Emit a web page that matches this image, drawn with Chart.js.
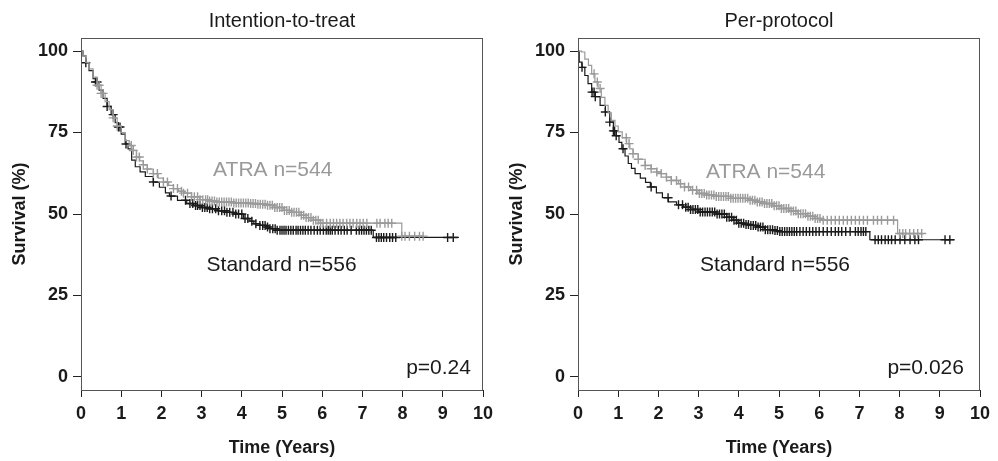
<!DOCTYPE html>
<html><head><meta charset="utf-8">
<script src="https://cdn.jsdelivr.net/npm/chart.js@4.4.1/dist/chart.umd.min.js"></script>
<style>
html,body{margin:0;padding:0;background:#fff;width:998px;height:461px;overflow:hidden}
.w{position:absolute;top:0;width:500px;height:461px}
</style></head><body>
<div class="w" style="left:0"><canvas id="c1" width="500" height="461"></canvas></div>
<div class="w" style="left:497px"><canvas id="c2" width="500" height="461"></canvas></div>
<script>
// ---- Data ----
const X_TICKS = [0,1,2,3,4,5,6,7,8,9,10];
const Y_TICKS = [0,25,50,75,100];

// Intention-to-treat: Standard
const ITT_STD_T = [0,0.05,0.12,0.2,0.3,0.36,0.45,0.55,0.65,0.75,0.85,0.93,1.0,1.1,1.17,1.26,1.35,1.47,1.6,1.8,1.95,2.1,2.2,2.4,2.63,2.8,3.0,3.2,3.4,3.6,3.8,4.04,4.2,4.3,4.45,4.6,4.7,4.87,7.27,9.4];
const ITT_STD_S = [100,98.5,96.4,94,91.5,90.5,88,85.5,83,80.5,78,76.7,74.5,71.5,70,66.5,64.5,62.9,61.5,59.8,58.2,56.5,55.5,54.2,53.2,52.6,52,51.6,51,50.5,50,48.6,47.8,47,46.5,46,45.5,45,42.8,42.8];
const ITT_STD_CENS = [0.12,0.36,0.4,0.65,0.8,0.93,0.97,1.12,1.8,2.24,2.6,2.71,2.78,2.85,2.9,2.96,3.02,3.08,3.14,3.2,3.27,3.35,3.42,3.5,3.57,3.63,3.7,3.78,3.85,3.92,4.0,4.08,4.15,4.25,4.35,4.45,4.52,4.58,4.64,4.7,4.77,4.83,4.88,4.95,5.0,5.05,5.1,5.16,5.22,5.28,5.35,5.4,5.46,5.52,5.58,5.65,5.72,5.8,5.88,5.95,6.03,6.1,6.15,6.2,6.25,6.32,6.4,6.47,6.55,6.62,6.72,6.85,6.92,6.98,7.04,7.1,7.16,7.22,7.35,7.41,7.47,7.53,7.6,7.68,7.75,7.83,9.12,9.26];

// Intention-to-treat: ATRA
const ITT_ATRA_T = [0,0.05,0.12,0.2,0.3,0.4,0.5,0.6,0.7,0.8,0.9,1.0,1.1,1.2,1.3,1.38,1.46,1.55,1.65,1.8,1.92,2.05,2.18,2.3,2.42,2.55,2.75,2.96,3.2,3.38,3.8,4.2,4.4,4.62,4.8,5.03,5.2,5.45,5.6,5.78,5.95,7.98,8.52];
const ITT_ATRA_S = [100,98.5,96.5,94.5,92,89.5,87,84.5,82,79.5,77,75,72.5,71,69.5,67.5,66.3,65.1,63.8,62.4,61,59.8,58.8,57.8,57,56.4,55.3,54.4,54,53.7,53.4,53.2,53,52.7,52,51.1,50.5,49.6,48.9,48.1,47.2,43.2,43.2];
const ITT_ATRA_CENS = [0.4,0.45,0.5,0.55,0.8,0.9,1.25,1.3,1.38,1.45,1.55,1.65,1.8,1.9,2.05,2.15,2.3,2.4,2.5,2.55,2.65,2.75,2.82,2.9,2.96,3.03,3.1,3.15,3.2,3.26,3.32,3.38,3.44,3.5,3.56,3.62,3.68,3.74,3.8,3.86,3.92,3.98,4.04,4.1,4.16,4.22,4.28,4.34,4.4,4.46,4.52,4.58,4.64,4.7,4.76,4.82,4.88,4.94,5.0,5.06,5.12,5.18,5.24,5.3,5.36,5.42,5.48,5.54,5.6,5.66,5.72,5.78,5.84,5.9,5.96,6.02,6.11,6.2,6.28,6.36,6.44,6.52,6.61,6.69,6.77,6.86,6.94,7.02,7.11,7.36,7.44,7.56,7.64,7.73,7.98,8.06,8.17,8.3,8.42,8.51];

// Per-protocol: Standard
const PP_STD_T = [0,0.03,0.1,0.17,0.25,0.34,0.43,0.55,0.68,0.79,0.88,0.95,1.02,1.09,1.17,1.25,1.33,1.42,1.55,1.68,1.8,1.95,2.1,2.25,2.45,2.62,2.8,3.0,3.45,3.7,3.86,3.98,4.15,4.28,4.45,4.64,4.85,5.0,7.26,9.37];
const PP_STD_S = [100,96.6,95,92.5,90,87.4,86,83.3,81.3,78.2,75.5,74,72,70,67.8,65.5,64,62.4,61,59.7,58.3,56.5,55,53.7,52.8,52.1,51.4,50.6,50,49,48.1,47.2,46.8,46.5,46,45.2,44.9,44.6,42.1,42.1];
const PP_STD_CENS = [0.1,0.35,0.4,0.43,0.68,0.79,0.88,0.91,0.95,1.12,1.82,2.24,2.5,2.6,2.68,2.74,2.8,2.86,2.92,2.98,3.04,3.1,3.16,3.22,3.28,3.34,3.4,3.46,3.52,3.58,3.64,3.7,3.76,3.82,3.88,3.94,4.0,4.06,4.12,4.18,4.24,4.3,4.36,4.42,4.48,4.54,4.6,4.66,4.72,4.78,4.84,4.9,4.96,5.02,5.08,5.14,5.2,5.26,5.32,5.38,5.44,5.52,5.6,5.68,5.76,5.84,5.92,6.0,6.1,6.2,6.3,6.4,6.48,6.56,6.66,6.77,6.9,6.97,7.04,7.1,7.16,7.39,7.47,7.55,7.64,7.72,7.8,7.89,8.01,8.13,8.26,8.38,8.47,9.13,9.25];

// Per-protocol: ATRA
const PP_ATRA_T = [0,0.09,0.17,0.26,0.34,0.42,0.5,0.58,0.67,0.75,0.83,0.92,1.0,1.1,1.21,1.29,1.37,1.5,1.67,1.82,1.96,2.07,2.2,2.32,2.5,2.65,2.8,2.98,3.2,3.4,3.8,4.23,4.45,4.64,4.85,5.06,5.25,5.47,5.7,5.89,6.05,7.95,8.6];
const PP_ATRA_S = [100,99.7,97.5,95.6,93,90.5,88.5,85.8,83.3,81,78.7,77,75.2,73.4,71.6,70,68.5,66.8,64.9,63.9,62.9,62.4,61.3,60.3,59.3,58.3,57.3,56.3,55.8,55.4,54.8,54.2,53.7,53.2,52.5,51.7,50.9,50.1,49.3,48.6,48.1,44,44];
const PP_ATRA_CENS = [0.4,0.48,0.55,1.2,1.27,1.37,1.5,1.67,1.82,1.96,2.07,2.2,2.32,2.45,2.55,2.65,2.75,2.85,2.95,3.02,3.08,3.14,3.2,3.26,3.32,3.38,3.44,3.5,3.56,3.62,3.68,3.74,3.8,3.86,3.92,3.98,4.04,4.1,4.16,4.22,4.28,4.34,4.4,4.46,4.52,4.58,4.64,4.7,4.76,4.82,4.88,4.94,5.0,5.06,5.12,5.18,5.24,5.3,5.36,5.42,5.48,5.54,5.6,5.66,5.72,5.78,5.84,5.9,5.96,6.02,6.1,6.2,6.3,6.4,6.5,6.6,6.7,6.8,6.9,7.0,7.1,7.2,7.35,7.45,7.55,7.7,7.85,8.0,8.08,8.15,8.25,8.35,8.45,8.55];

// ---- Rendering ----
const FONT = '"Liberation Sans", Arial, Helvetica, sans-serif';
const BLACK = '#1a1a1a', GRAY = '#9a9a9a';

function kmAt(T, S, t) { let v = S[0]; for (let i = 0; i < T.length; i++) { if (T[i] <= t) v = S[i]; else break; } return v; }
function pts(T, S) { return T.map((t, i) => ({x: t, y: S[i]})); }
function cens(T, S, C) { return C.map(t => ({x: t, y: kmAt(T, S, t)})); }

const textPlugin = {
  id: 'texts',
  afterDraw(chart, args, o) {
    const ctx = chart.ctx, a = chart.chartArea, xs = chart.scales.x, ys = chart.scales.y;
    ctx.save();
    ctx.strokeStyle = '#555'; ctx.lineWidth = 1;
    ctx.strokeRect(a.left + 0.5, a.top + 0.5, a.right - a.left - 1, a.bottom - a.top);
    ctx.fillStyle = BLACK; ctx.font = '20px ' + FONT; ctx.textAlign = 'center'; ctx.textBaseline = 'middle';
    ctx.fillText(o.title, (a.left + a.right) / 2, 21);
    ctx.font = 'bold 18px ' + FONT;
    ctx.fillText('Time (Years)', (a.left + a.right) / 2, 448);
    ctx.save(); ctx.translate(20, (a.top + a.bottom) / 2); ctx.rotate(-Math.PI / 2);
    ctx.fillText('Survival (%)', 0, 0); ctx.restore();
    ctx.font = '21px ' + FONT;
    o.labels.forEach(l => {
      ctx.fillStyle = l.color; ctx.textAlign = l.align || 'center';
      ctx.fillText(l.text, xs.getPixelForValue(l.x), ys.getPixelForValue(l.y));
    });
    ctx.restore();
  }
};

function makeChart(id, title, stdT, stdS, stdC, atT, atS, atC, labels) {
  new Chart(document.getElementById(id), {
    type: 'line',
    data: {
      datasets: [
        {data: cens(atT, atS, atC), showLine: false, pointStyle: 'cross', pointRadius: 4.5, borderColor: GRAY, borderWidth: 1.4, backgroundColor: GRAY, order: 1},
        {data: pts(atT, atS), stepped: true, borderColor: GRAY, borderWidth: 1.2, pointRadius: 0, fill: false, order: 2},
        {data: cens(stdT, stdS, stdC), showLine: false, pointStyle: 'cross', pointRadius: 4.5, borderColor: BLACK, borderWidth: 1.4, backgroundColor: BLACK, order: 3},
        {data: pts(stdT, stdS), stepped: true, borderColor: BLACK, borderWidth: 1.2, pointRadius: 0, fill: false, order: 4}
      ]
    },
    options: {
      responsive: false, animation: false,
      layout: {padding: {top: 38, right: 17, bottom: 0, left: 0}},
      plugins: {legend: {display: false}, tooltip: {enabled: false}, texts: {title, labels}},
      scales: {
        x: {type: 'linear', min: 0, max: 10,
            afterFit: s => { s.height = 71; },
            afterBuildTicks: s => { s.ticks = X_TICKS.map(v => ({value: v})); },
            ticks: {font: {family: FONT, size: 18, weight: 'bold'}, color: BLACK, padding: 6, maxRotation: 0, autoSkip: false},
            grid: {display: true, drawOnChartArea: false, drawTicks: true, tickLength: 7, color: '#222'},
            border: {display: true, color: '#222', width: 1}},
        y: {type: 'linear', min: -4, max: 104,
            afterFit: s => { s.width = 81; },
            afterBuildTicks: s => { s.ticks = Y_TICKS.map(v => ({value: v})); },
            ticks: {font: {family: FONT, size: 18, weight: 'bold'}, color: BLACK, padding: 5},
            grid: {display: true, drawOnChartArea: false, drawTicks: true, tickLength: 8, color: '#222'},
            border: {display: true, color: '#222', width: 1}}
      }
    },
    plugins: [textPlugin]
  });
}

makeChart('c1', 'Intention-to-treat', ITT_STD_T, ITT_STD_S, ITT_STD_CENS, ITT_ATRA_T, ITT_ATRA_S, ITT_ATRA_CENS, [
  {text: 'ATRA n=544', x: 4.77, y: 63.4, color: GRAY},
  {text: 'Standard n=556', x: 4.99, y: 34.3, color: BLACK},
  {text: 'p=0.24', x: 9.7, y: 2.6, color: BLACK, align: 'right'}
]);
makeChart('c2', 'Per-protocol', PP_STD_T, PP_STD_S, PP_STD_CENS, PP_ATRA_T, PP_ATRA_S, PP_ATRA_CENS, [
  {text: 'ATRA n=544', x: 4.67, y: 62.8, color: GRAY},
  {text: 'Standard n=556', x: 4.9, y: 34.3, color: BLACK},
  {text: 'p=0.026', x: 9.6, y: 2.6, color: BLACK, align: 'right'}
]);
</script>
</body></html>
